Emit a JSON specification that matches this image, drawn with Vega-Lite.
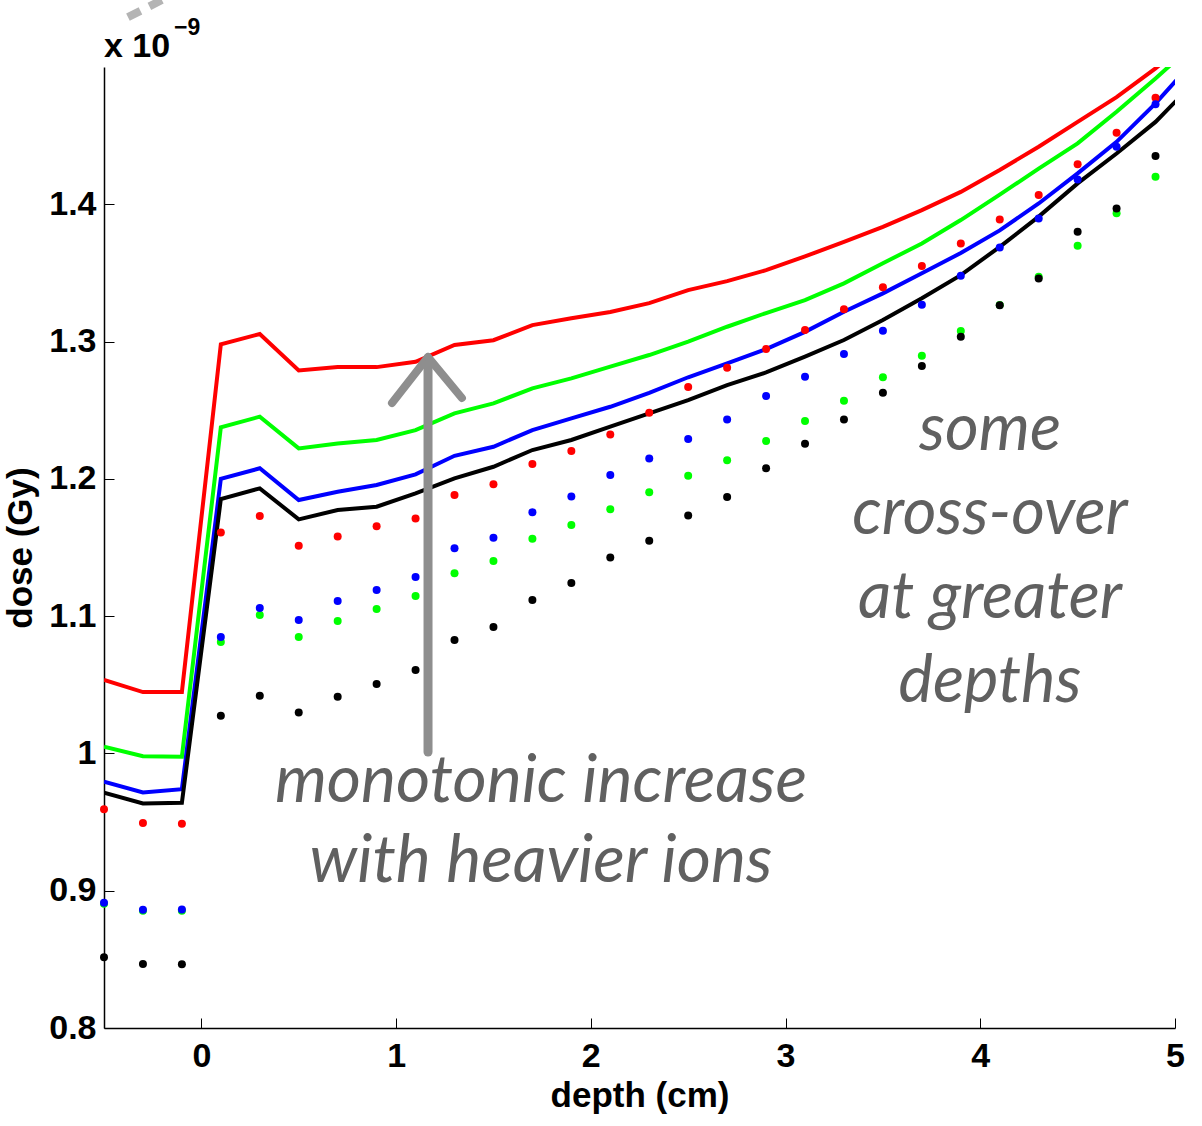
{
  "$schema": "https://vega.github.io/schema/vega-lite/v6.json",
  "width": 1071,
  "height": 961,
  "autosize": {"type": "none"},
  "padding": {"left": 104, "top": 67, "right": 27, "bottom": 98},
  "background": "white",
  "config": {
    "view": {"stroke": null},
    "axis": {
      "domainColor": "black",
      "domainWidth": 1.5,
      "tickColor": "black",
      "tickWidth": 1,
      "tickSize": -10,
      "grid": false,
      "labelFlush": false,
      "labelOverlap": false,
      "labelFont": "Liberation Sans",
      "labelFontWeight": "bold",
      "labelFontSize": 34,
      "labelColor": "black",
      "titleFont": "Liberation Sans",
      "titleFontWeight": "bold",
      "titleFontSize": 35,
      "titleColor": "black"
    }
  },
  "datasets": {
    "curves": [
      {"series": "red", "depth": -0.5, "dose": 1.0535}, {"series": "red", "depth": -0.3, "dose": 1.0447}, {"series": "red", "depth": -0.1, "dose": 1.0447},
      {"series": "red", "depth": 0.1, "dose": 1.298}, {"series": "red", "depth": 0.3, "dose": 1.3055}, {"series": "red", "depth": 0.5, "dose": 1.279},
      {"series": "red", "depth": 0.7, "dose": 1.2814}, {"series": "red", "depth": 0.9, "dose": 1.2814}, {"series": "red", "depth": 1.1, "dose": 1.2853},
      {"series": "red", "depth": 1.3, "dose": 1.2975}, {"series": "red", "depth": 1.5, "dose": 1.301}, {"series": "red", "depth": 1.7, "dose": 1.312},
      {"series": "red", "depth": 1.9, "dose": 1.317}, {"series": "red", "depth": 2.1, "dose": 1.3215}, {"series": "red", "depth": 2.3, "dose": 1.328},
      {"series": "red", "depth": 2.5, "dose": 1.3375}, {"series": "red", "depth": 2.7, "dose": 1.344}, {"series": "red", "depth": 2.9, "dose": 1.352},
      {"series": "red", "depth": 3.1, "dose": 1.362}, {"series": "red", "depth": 3.3, "dose": 1.3727}, {"series": "red", "depth": 3.5, "dose": 1.3836},
      {"series": "red", "depth": 3.7, "dose": 1.3958}, {"series": "red", "depth": 3.9, "dose": 1.409}, {"series": "red", "depth": 4.1, "dose": 1.425},
      {"series": "red", "depth": 4.3, "dose": 1.4419}, {"series": "red", "depth": 4.5, "dose": 1.46}, {"series": "red", "depth": 4.7, "dose": 1.478},
      {"series": "red", "depth": 4.9, "dose": 1.499}, {"series": "red", "depth": 5.1, "dose": 1.522},

      {"series": "green", "depth": -0.5, "dose": 1.0049}, {"series": "green", "depth": -0.3, "dose": 0.998}, {"series": "green", "depth": -0.1, "dose": 0.9976},
      {"series": "green", "depth": 0.1, "dose": 1.2375}, {"series": "green", "depth": 0.3, "dose": 1.2453}, {"series": "green", "depth": 0.5, "dose": 1.2222},
      {"series": "green", "depth": 0.7, "dose": 1.2258}, {"series": "green", "depth": 0.9, "dose": 1.2283}, {"series": "green", "depth": 1.1, "dose": 1.2355},
      {"series": "green", "depth": 1.3, "dose": 1.2477}, {"series": "green", "depth": 1.5, "dose": 1.255}, {"series": "green", "depth": 1.7, "dose": 1.2659},
      {"series": "green", "depth": 1.9, "dose": 1.2732}, {"series": "green", "depth": 2.1, "dose": 1.2817}, {"series": "green", "depth": 2.3, "dose": 1.2902},
      {"series": "green", "depth": 2.5, "dose": 1.2999}, {"series": "green", "depth": 2.7, "dose": 1.3108}, {"series": "green", "depth": 2.9, "dose": 1.3208},
      {"series": "green", "depth": 3.1, "dose": 1.3302}, {"series": "green", "depth": 3.3, "dose": 1.3424}, {"series": "green", "depth": 3.5, "dose": 1.357},
      {"series": "green", "depth": 3.7, "dose": 1.3715}, {"series": "green", "depth": 3.9, "dose": 1.3885}, {"series": "green", "depth": 4.1, "dose": 1.407},
      {"series": "green", "depth": 4.3, "dose": 1.426}, {"series": "green", "depth": 4.5, "dose": 1.4444}, {"series": "green", "depth": 4.7, "dose": 1.4674},
      {"series": "green", "depth": 4.9, "dose": 1.4917}, {"series": "green", "depth": 5.1, "dose": 1.517},

      {"series": "blue", "depth": -0.5, "dose": 0.9794}, {"series": "blue", "depth": -0.3, "dose": 0.9716}, {"series": "blue", "depth": -0.1, "dose": 0.974},
      {"series": "blue", "depth": 0.1, "dose": 1.2}, {"series": "blue", "depth": 0.3, "dose": 1.2077}, {"series": "blue", "depth": 0.5, "dose": 1.1846},
      {"series": "blue", "depth": 0.7, "dose": 1.1906}, {"series": "blue", "depth": 0.9, "dose": 1.1955}, {"series": "blue", "depth": 1.1, "dose": 1.2033},
      {"series": "blue", "depth": 1.3, "dose": 1.2168}, {"series": "blue", "depth": 1.5, "dose": 1.2234}, {"series": "blue", "depth": 1.7, "dose": 1.2355},
      {"series": "blue", "depth": 1.9, "dose": 1.244}, {"series": "blue", "depth": 2.1, "dose": 1.2525}, {"series": "blue", "depth": 2.3, "dose": 1.2627},
      {"series": "blue", "depth": 2.5, "dose": 1.274}, {"series": "blue", "depth": 2.7, "dose": 1.2841}, {"series": "blue", "depth": 2.9, "dose": 1.2945},
      {"series": "blue", "depth": 3.1, "dose": 1.3071}, {"series": "blue", "depth": 3.3, "dose": 1.3217}, {"series": "blue", "depth": 3.5, "dose": 1.3351},
      {"series": "blue", "depth": 3.7, "dose": 1.3497}, {"series": "blue", "depth": 3.9, "dose": 1.3645}, {"series": "blue", "depth": 4.1, "dose": 1.381},
      {"series": "blue", "depth": 4.3, "dose": 1.4006}, {"series": "blue", "depth": 4.5, "dose": 1.4225}, {"series": "blue", "depth": 4.7, "dose": 1.4455},
      {"series": "blue", "depth": 4.9, "dose": 1.4735}, {"series": "blue", "depth": 5.1, "dose": 1.505},

      {"series": "black", "depth": -0.5, "dose": 0.9714}, {"series": "black", "depth": -0.3, "dose": 0.9636}, {"series": "black", "depth": -0.1, "dose": 0.964},
      {"series": "black", "depth": 0.1, "dose": 1.1853}, {"series": "black", "depth": 0.3, "dose": 1.1931}, {"series": "black", "depth": 0.5, "dose": 1.1705},
      {"series": "black", "depth": 0.7, "dose": 1.1773}, {"series": "black", "depth": 0.9, "dose": 1.1797}, {"series": "black", "depth": 1.1, "dose": 1.1894},
      {"series": "black", "depth": 1.3, "dose": 1.2003}, {"series": "black", "depth": 1.5, "dose": 1.2088}, {"series": "black", "depth": 1.7, "dose": 1.221},
      {"series": "black", "depth": 1.9, "dose": 1.2283}, {"series": "black", "depth": 2.1, "dose": 1.238}, {"series": "black", "depth": 2.3, "dose": 1.2477},
      {"series": "black", "depth": 2.5, "dose": 1.2574}, {"series": "black", "depth": 2.7, "dose": 1.2683}, {"series": "black", "depth": 2.9, "dose": 1.2775},
      {"series": "black", "depth": 3.1, "dose": 1.289}, {"series": "black", "depth": 3.3, "dose": 1.3011}, {"series": "black", "depth": 3.5, "dose": 1.3157},
      {"series": "black", "depth": 3.7, "dose": 1.3315}, {"series": "black", "depth": 3.9, "dose": 1.3484}, {"series": "black", "depth": 4.1, "dose": 1.369},
      {"series": "black", "depth": 4.3, "dose": 1.391}, {"series": "black", "depth": 4.5, "dose": 1.4152}, {"series": "black", "depth": 4.7, "dose": 1.437},
      {"series": "black", "depth": 4.9, "dose": 1.46}, {"series": "black", "depth": 5.1, "dose": 1.489}
    ],
    "dots": [
      {"series": "red", "depth": -0.5, "dose": 0.9593}, {"series": "red", "depth": -0.3, "dose": 0.9493}, {"series": "red", "depth": -0.1, "dose": 0.9488},
      {"series": "red", "depth": 0.1, "dose": 1.161}, {"series": "red", "depth": 0.3, "dose": 1.1729}, {"series": "red", "depth": 0.5, "dose": 1.1513},
      {"series": "red", "depth": 0.7, "dose": 1.1581}, {"series": "red", "depth": 0.9, "dose": 1.1654}, {"series": "red", "depth": 1.1, "dose": 1.1712},
      {"series": "red", "depth": 1.3, "dose": 1.1882}, {"series": "red", "depth": 1.5, "dose": 1.196}, {"series": "red", "depth": 1.7, "dose": 1.2108},
      {"series": "red", "depth": 1.9, "dose": 1.2203}, {"series": "red", "depth": 2.1, "dose": 1.2324}, {"series": "red", "depth": 2.3, "dose": 1.2481},
      {"series": "red", "depth": 2.5, "dose": 1.2669}, {"series": "red", "depth": 2.7, "dose": 1.2809}, {"series": "red", "depth": 2.9, "dose": 1.2945},
      {"series": "red", "depth": 3.1, "dose": 1.3084}, {"series": "red", "depth": 3.3, "dose": 1.3235}, {"series": "red", "depth": 3.5, "dose": 1.3395},
      {"series": "red", "depth": 3.7, "dose": 1.355}, {"series": "red", "depth": 3.9, "dose": 1.3715}, {"series": "red", "depth": 4.1, "dose": 1.389},
      {"series": "red", "depth": 4.3, "dose": 1.4067}, {"series": "red", "depth": 4.5, "dose": 1.4291}, {"series": "red", "depth": 4.7, "dose": 1.4521},
      {"series": "red", "depth": 4.9, "dose": 1.4776},

      {"series": "green", "depth": -0.5, "dose": 0.8905}, {"series": "green", "depth": -0.3, "dose": 0.8854}, {"series": "green", "depth": -0.1, "dose": 0.8854},
      {"series": "green", "depth": 0.1, "dose": 1.0811}, {"series": "green", "depth": 0.3, "dose": 1.1008}, {"series": "green", "depth": 0.5, "dose": 1.0848},
      {"series": "green", "depth": 0.7, "dose": 1.0964}, {"series": "green", "depth": 0.9, "dose": 1.1052}, {"series": "green", "depth": 1.1, "dose": 1.1146},
      {"series": "green", "depth": 1.3, "dose": 1.1312}, {"series": "green", "depth": 1.5, "dose": 1.1401}, {"series": "green", "depth": 1.7, "dose": 1.1564},
      {"series": "green", "depth": 1.9, "dose": 1.1664}, {"series": "green", "depth": 2.1, "dose": 1.1778}, {"series": "green", "depth": 2.3, "dose": 1.1902},
      {"series": "green", "depth": 2.5, "dose": 1.2023}, {"series": "green", "depth": 2.7, "dose": 1.2135}, {"series": "green", "depth": 2.9, "dose": 1.2275},
      {"series": "green", "depth": 3.1, "dose": 1.2421}, {"series": "green", "depth": 3.3, "dose": 1.2569}, {"series": "green", "depth": 3.5, "dose": 1.2741},
      {"series": "green", "depth": 3.7, "dose": 1.2897}, {"series": "green", "depth": 3.9, "dose": 1.3077}, {"series": "green", "depth": 4.1, "dose": 1.3266},
      {"series": "green", "depth": 4.3, "dose": 1.3472}, {"series": "green", "depth": 4.5, "dose": 1.3698}, {"series": "green", "depth": 4.7, "dose": 1.3934},
      {"series": "green", "depth": 4.9, "dose": 1.42},

      {"series": "blue", "depth": -0.5, "dose": 0.8913}, {"series": "blue", "depth": -0.3, "dose": 0.8862}, {"series": "blue", "depth": -0.1, "dose": 0.8864},
      {"series": "blue", "depth": 0.1, "dose": 1.0848}, {"series": "blue", "depth": 0.3, "dose": 1.1059}, {"series": "blue", "depth": 0.5, "dose": 1.0972},
      {"series": "blue", "depth": 0.7, "dose": 1.111}, {"series": "blue", "depth": 0.9, "dose": 1.119}, {"series": "blue", "depth": 1.1, "dose": 1.1285},
      {"series": "blue", "depth": 1.3, "dose": 1.1494}, {"series": "blue", "depth": 1.5, "dose": 1.1571}, {"series": "blue", "depth": 1.7, "dose": 1.1756},
      {"series": "blue", "depth": 1.9, "dose": 1.1872}, {"series": "blue", "depth": 2.1, "dose": 1.2028}, {"series": "blue", "depth": 2.3, "dose": 1.2149},
      {"series": "blue", "depth": 2.5, "dose": 1.229}, {"series": "blue", "depth": 2.7, "dose": 1.2433}, {"series": "blue", "depth": 2.9, "dose": 1.2603},
      {"series": "blue", "depth": 3.1, "dose": 1.2744}, {"series": "blue", "depth": 3.3, "dose": 1.2909}, {"series": "blue", "depth": 3.5, "dose": 1.3079},
      {"series": "blue", "depth": 3.7, "dose": 1.3268}, {"series": "blue", "depth": 3.9, "dose": 1.3479}, {"series": "blue", "depth": 4.1, "dose": 1.3686},
      {"series": "blue", "depth": 4.3, "dose": 1.3897}, {"series": "blue", "depth": 4.5, "dose": 1.4181}, {"series": "blue", "depth": 4.7, "dose": 1.4419},
      {"series": "blue", "depth": 4.9, "dose": 1.4728},

      {"series": "black", "depth": -0.5, "dose": 0.8515}, {"series": "black", "depth": -0.3, "dose": 0.8466}, {"series": "black", "depth": -0.1, "dose": 0.8464},
      {"series": "black", "depth": 0.1, "dose": 1.0275}, {"series": "black", "depth": 0.3, "dose": 1.0421}, {"series": "black", "depth": 0.5, "dose": 1.0299},
      {"series": "black", "depth": 0.7, "dose": 1.0413}, {"series": "black", "depth": 0.9, "dose": 1.0505}, {"series": "black", "depth": 1.1, "dose": 1.0607},
      {"series": "black", "depth": 1.3, "dose": 1.0826}, {"series": "black", "depth": 1.5, "dose": 1.0921}, {"series": "black", "depth": 1.7, "dose": 1.1117},
      {"series": "black", "depth": 1.9, "dose": 1.1241}, {"series": "black", "depth": 2.1, "dose": 1.1428}, {"series": "black", "depth": 2.3, "dose": 1.1549},
      {"series": "black", "depth": 2.5, "dose": 1.1734}, {"series": "black", "depth": 2.7, "dose": 1.1867}, {"series": "black", "depth": 2.9, "dose": 1.2077},
      {"series": "black", "depth": 3.1, "dose": 1.2256}, {"series": "black", "depth": 3.3, "dose": 1.2433}, {"series": "black", "depth": 3.5, "dose": 1.2627},
      {"series": "black", "depth": 3.7, "dose": 1.2822}, {"series": "black", "depth": 3.9, "dose": 1.3035}, {"series": "black", "depth": 4.1, "dose": 1.3264},
      {"series": "black", "depth": 4.3, "dose": 1.346}, {"series": "black", "depth": 4.5, "dose": 1.38}, {"series": "black", "depth": 4.7, "dose": 1.397},
      {"series": "black", "depth": 4.9, "dose": 1.4351}
    ]
  },
  "layer": [
    {
      "data": {"name": "curves"},
      "mark": {"type": "line", "strokeWidth": 4, "clip": true},
      "encoding": {
        "x": {
          "field": "depth", "type": "quantitative",
          "scale": {"domain": [-0.5, 5], "nice": false, "zero": false},
          "axis": {"values": [0, 1, 2, 3, 4, 5], "format": "d", "title": "depth (cm)", "labelPadding": 21, "titlePadding": 5}
        },
        "y": {
          "field": "dose", "type": "quantitative",
          "scale": {"domain": [0.8, 1.5], "nice": false, "zero": false},
          "axis": {"values": [0.8, 0.9, 1, 1.1, 1.2, 1.3, 1.4], "format": ".2~f", "title": "dose (Gy)", "labelPadding": 18, "titlePadding": 10}
        },
        "color": {
          "field": "series", "type": "nominal",
          "scale": {"domain": ["red", "green", "blue", "black"], "range": ["#ff0000", "#00ff00", "#0000ff", "#000000"]},
          "legend": null
        }
      }
    },
    {
      "data": {"name": "dots"},
      "mark": {"type": "circle", "size": 64, "opacity": 1},
      "encoding": {
        "x": {"field": "depth", "type": "quantitative"},
        "y": {"field": "dose", "type": "quantitative"},
        "color": {"field": "series", "type": "nominal", "legend": null}
      }
    },
    {
      "data": {"values": [{}]},
      "mark": {"type": "rule", "color": "#8e8e8e", "strokeWidth": 9, "strokeCap": "round"},
      "encoding": {"x": {"datum": 1.164}, "y": {"datum": 1.001}, "y2": {"datum": 1.283}}
    },
    {
      "data": {"values": [{}]},
      "mark": {"type": "rule", "color": "#8e8e8e", "strokeWidth": 8, "strokeCap": "round"},
      "encoding": {"x": {"datum": 0.979}, "y": {"datum": 1.2552}, "x2": {"datum": 1.164}, "y2": {"datum": 1.2887}}
    },
    {
      "data": {"values": [{}]},
      "mark": {"type": "rule", "color": "#8e8e8e", "strokeWidth": 8, "strokeCap": "round"},
      "encoding": {"x": {"datum": 1.338}, "y": {"datum": 1.2589}, "x2": {"datum": 1.164}, "y2": {"datum": 1.2887}}
    },
    {
      "data": {"values": [{}]},
      "mark": {"type": "rule", "color": "#b4b4b4", "strokeWidth": 8, "strokeDash": [14, 10]},
      "encoding": {"x": {"datum": -0.377}, "y": {"datum": 1.5363}, "x2": {"datum": -0.13}, "y2": {"datum": 1.554}}
    },
    {
      "data": {"values": [{}]},
      "mark": {"type": "text", "text": ["monotonic increase", "with heavier ions"], "font": "Lato", "fontStyle": "italic", "fontSize": 66, "lineHeight": 80, "color": "#606060", "align": "center", "baseline": "alphabetic"},
      "encoding": {"x": {"datum": 1.744}, "y": {"datum": 0.9646}}
    },
    {
      "data": {"values": [{}]},
      "mark": {"type": "text", "text": ["some", "cross-over", "at greater", "depths"], "font": "Lato", "fontStyle": "italic", "fontSize": 65, "lineHeight": 84, "color": "#606060", "align": "center", "baseline": "alphabetic"},
      "encoding": {"x": {"datum": 4.05}, "y": {"datum": 1.221}}
    },
    {
      "data": {"values": [{}]},
      "mark": {"type": "text", "text": "x 10", "font": "Liberation Sans", "fontWeight": "bold", "fontSize": 34, "color": "black", "align": "left", "baseline": "alphabetic"},
      "encoding": {"x": {"datum": -0.5}, "y": {"datum": 1.5072}}
    },
    {
      "data": {"values": [{}]},
      "mark": {"type": "text", "text": "−9", "font": "Liberation Sans", "fontWeight": "bold", "fontSize": 23, "color": "black", "align": "left", "baseline": "alphabetic"},
      "encoding": {"x": {"datum": -0.14}, "y": {"datum": 1.5232}}
    }
  ]
}
